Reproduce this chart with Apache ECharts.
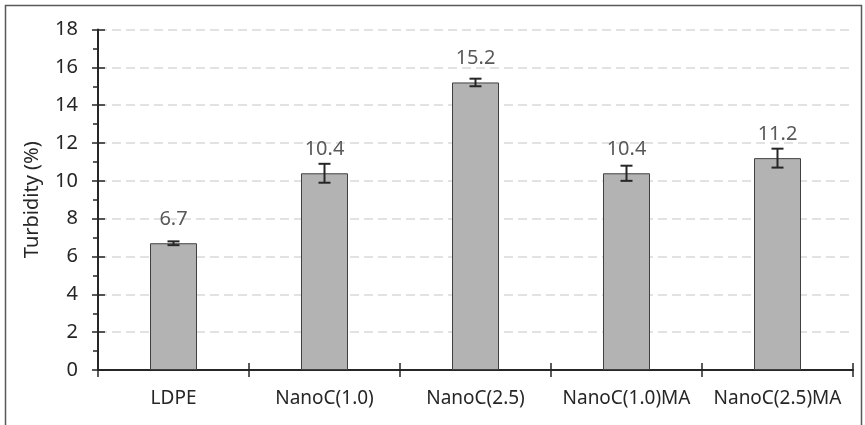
<!DOCTYPE html>
<html>
<head>
<meta charset="utf-8">
<script src="https://cdn.jsdelivr.net/npm/echarts@6/dist/echarts.min.js"></script>
<style>
html,body{margin:0;padding:0;background:#fff;}
#chart{width:865px;height:425px;}
</style>
</head>
<body>
<div id="chart"></div>
<script>
var categories = ['LDPE', 'NanoC(1.0)', 'NanoC(2.5)', 'NanoC(1.0)MA', 'NanoC(2.5)MA'];
var values = [6.7, 10.4, 15.2, 10.4, 11.2];
var errors = [0.1, 0.5, 0.2, 0.4, 0.5];
var yMin = 0, yMax = 18, yInterval = 2;
var yTitle = 'Turbidity (%)';

var FONT = 'Noto Sans';
var chart = echarts.init(document.getElementById('chart'), null, {renderer: 'canvas'});

var errData = values.map(function (v, i) { return [i, v - errors[i], v + errors[i]]; });

var option = {
  animation: false,
  backgroundColor: '#ffffff',
  textStyle: {fontFamily: FONT},
  graphic: [{
    type: 'rect',
    shape: {x: 5.5, y: 5.5, width: 856, height: 440},
    style: {fill: 'none', stroke: '#595959', lineWidth: 1.5},
    z: 0, silent: true
  }],
  grid: {left: 98, right: 12, top: 29.5, bottom: 55, containLabel: false},
  xAxis: [{
    type: 'category',
    data: categories,
    boundaryGap: true,
    axisLine: {show: true, lineStyle: {color: '#262626', width: 2}},
    axisTick: {show: true, length: 7, inside: false, lineStyle: {color: '#262626', width: 1.5}},
    axisLabel: {color: '#262626', fontSize: 19, fontFamily: FONT, margin: 19, interval: 0},
    splitLine: {show: false}
  }, {
    type: 'category',
    data: categories,
    position: 'bottom',
    boundaryGap: true,
    axisLine: {show: false},
    axisTick: {show: true, length: 7, inside: true, lineStyle: {color: '#262626', width: 1.5}},
    axisLabel: {show: false},
    splitLine: {show: false}
  }],
  yAxis: [{
    type: 'value',
    min: yMin, max: yMax, interval: yInterval,
    name: yTitle,
    nameLocation: 'middle',
    nameGap: 56,
    nameRotate: 90,
    nameTextStyle: {color: '#262626', fontSize: 20, fontFamily: FONT},
    axisLine: {show: true, lineStyle: {color: '#262626', width: 2}},
    axisTick: {show: true, length: 6, inside: false, lineStyle: {color: '#262626', width: 1.5}},
    minorTick: {show: true, splitNumber: 2, length: 5, lineStyle: {color: '#262626', width: 1.5}},
    axisLabel: {color: '#262626', fontSize: 20, fontFamily: FONT, margin: 20},
    splitLine: {show: true, lineStyle: {color: '#d9d9d9', width: 1.5, type: [9, 5]}}
  }, {
    type: 'value',
    min: yMin, max: yMax, interval: yInterval,
    position: 'left',
    axisLine: {show: false},
    axisTick: {show: true, length: 7, inside: true, lineStyle: {color: '#262626', width: 1.5}},
    axisLabel: {show: false},
    splitLine: {show: false}
  }],
  series: [{
    type: 'bar',
    data: values,
    barWidth: 47,
    itemStyle: {color: '#b3b3b3', borderColor: '#404040', borderWidth: 1},
    label: {
      show: true, position: 'top', distance: 14,
      color: '#595959', fontSize: 20, fontFamily: FONT,
      formatter: function (p) { return p.value.toFixed(1); }
    },
    z: 2
  }, {
    type: 'custom',
    data: errData,
    z: 3,
    renderItem: function (params, api) {
      var x = api.value(0);
      var lo = api.coord([x, api.value(1)]);
      var hi = api.coord([x, api.value(2)]);
      var hw = 6;
      var st = {stroke: '#262626', lineWidth: 2};
      return {
        type: 'group',
        children: [
          {type: 'line', shape: {x1: lo[0], y1: lo[1], x2: hi[0], y2: hi[1]}, style: st},
          {type: 'line', shape: {x1: lo[0] - hw, y1: lo[1], x2: lo[0] + hw, y2: lo[1]}, style: st},
          {type: 'line', shape: {x1: hi[0] - hw, y1: hi[1], x2: hi[0] + hw, y2: hi[1]}, style: st}
        ]
      };
    }
  }]
};
chart.setOption(option);
</script>
</body>
</html>
